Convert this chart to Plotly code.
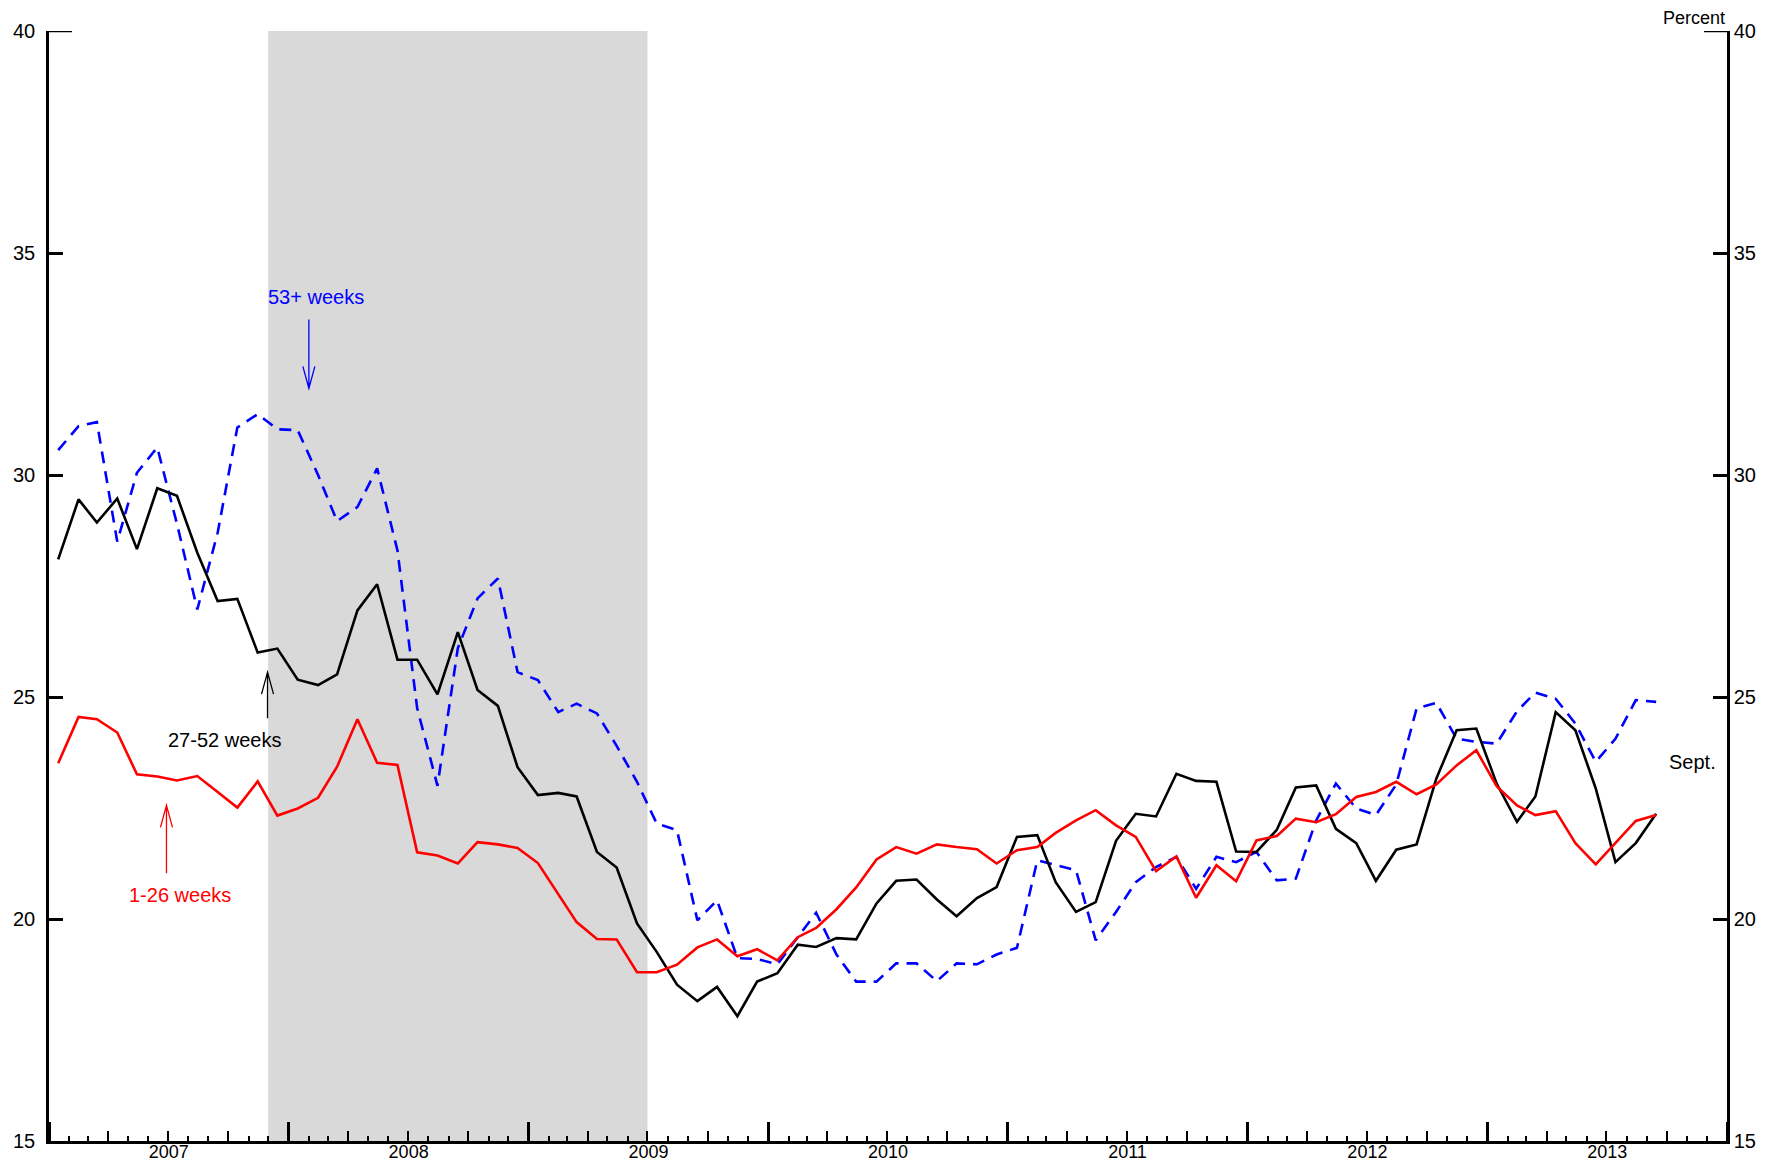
import pandas as pd
import plotly.graph_objects as go

# Monthly data, Jan 2007 - Sep 2013 (percent of unemployed)
start_month = "2007-01-01"
n_months = 81

weeks_1_26 = [23.51, 24.55, 24.50, 24.20, 23.26, 23.21, 23.12, 23.22, 22.86, 22.51, 23.10, 22.33,
              22.49, 22.73, 23.43, 24.50, 23.52, 23.47, 21.50, 21.43, 21.25, 21.73, 21.68, 21.60,
              21.26, 20.57, 19.93, 19.55, 19.54, 18.80, 18.80, 18.97, 19.36, 19.54, 19.16, 19.32,
              19.07, 19.59, 19.80, 20.22, 20.71, 21.34, 21.62, 21.47, 21.68, 21.62, 21.57, 21.25,
              21.55, 21.62, 21.94, 22.22, 22.45, 22.11, 21.85, 21.08, 21.41, 20.48, 21.21, 20.85,
              21.77, 21.87, 22.26, 22.18, 22.36, 22.75, 22.86, 23.09, 22.81, 23.03, 23.46, 23.80,
              22.99, 22.56, 22.34, 22.43, 21.71, 21.23, 21.71, 22.21, 22.34]

weeks_27_52 = [28.10, 29.45, 28.93, 29.47, 28.33, 29.70, 29.53, 28.25, 27.16, 27.21, 26.00, 26.09,
               25.39, 25.27, 25.51, 26.95, 27.54, 25.84, 25.84, 25.06, 26.46, 25.16, 24.80, 23.42,
               22.79, 22.84, 22.76, 21.51, 21.16, 19.90, 19.26, 18.52, 18.15, 18.47, 17.81, 18.59,
               18.78, 19.42, 19.37, 19.57, 19.54, 20.35, 20.86, 20.89, 20.44, 20.06, 20.47, 20.72,
               21.85, 21.89, 20.83, 20.16, 20.38, 21.76, 22.37, 22.31, 23.27, 23.11, 23.09, 21.52,
               21.51, 22.01, 22.96, 23.01, 22.03, 21.71, 20.86, 21.56, 21.68, 23.16, 24.25, 24.29,
               23.05, 22.19, 22.76, 24.66, 24.25, 22.94, 21.28, 21.71, 22.37]

weeks_53_plus = [30.56, 31.10, 31.19, 28.50, 30.05, 30.62, 28.90, 26.97, 28.70, 31.07, 31.37, 31.03,
                 31.01, 30.00, 28.96, 29.28, 30.15, 28.30, 24.75, 23.00, 26.10, 27.22, 27.67, 25.56,
                 25.38, 24.66, 24.85, 24.63, 23.90, 23.09, 22.15, 22.00, 19.97, 20.42, 19.12, 19.10,
                 18.98, 19.58, 20.14, 19.20, 18.59, 18.59, 19.00, 19.00, 18.60, 19.00, 18.98, 19.20,
                 19.35, 21.32, 21.21, 21.10, 19.52, 20.16, 20.83, 21.17, 21.40, 20.68, 21.40, 21.28,
                 21.51, 20.87, 20.91, 22.22, 23.05, 22.49, 22.34, 23.03, 24.74, 24.87, 24.06, 23.99,
                 23.95, 24.68, 25.10, 24.96, 24.40, 23.54, 24.06, 24.93, 24.89]

y_ticks = [15, 20, 25, 30, 35, 40]
x_range = ["2007-01-01", "2014-01-01"]
recession = ["2007-12-01", "2009-07-01"]

months = pd.date_range(start_month, periods=n_months, freq="MS") + pd.Timedelta(days=14)

FONT = "Liberation Sans, Arial, sans-serif"
BLUE, RED, BLACK = "#0000ff", "#ff0000", "#000000"

fig = go.Figure()
fig.add_trace(go.Scatter(x=months, y=weeks_53_plus, mode="lines", name="53+ weeks",
                         line=dict(color=BLUE, width=2.6, dash="12px,8px")))
fig.add_trace(go.Scatter(x=months, y=weeks_27_52, mode="lines", name="27-52 weeks",
                         line=dict(color=BLACK, width=2.6)))
fig.add_trace(go.Scatter(x=months, y=weeks_1_26, mode="lines", name="1-26 weeks",
                         line=dict(color=RED, width=2.6)))
# empty trace that carries the secondary (quarter-tick / right) axes
fig.add_trace(go.Scatter(x=[], y=[], xaxis="x2", yaxis="y2", showlegend=False, hoverinfo="skip"))

# recession shading
fig.add_shape(type="rect", xref="x", yref="paper", x0=recession[0], x1=recession[1], y0=0, y1=1,
              fillcolor="#d9d9d9", line=dict(width=0), layer="below")

# longer tick at the top value on both sides
fig.add_shape(type="line", xref="paper", xsizemode="pixel", xanchor=0, x0=0, x1=23,
              yref="y", y0=y_ticks[-1], y1=y_ticks[-1], line=dict(color=BLACK, width=2.5))
fig.add_shape(type="line", xref="paper", xsizemode="pixel", xanchor=1, x0=-23, x1=0,
              yref="y", y0=y_ticks[-1], y1=y_ticks[-1], line=dict(color=BLACK, width=2.5))


def arrow(xdate, y_tip, length_px, color, pointing):
    # vertical arrow with an open V head; pixels relative to the tip
    s = 1 if pointing == "up" else -1
    path = (f"M0,0 L0,{-s*length_px} M-6,{-s*22} L0,0 L6,{-s*22}")
    fig.add_shape(type="path", xref="x", yref="y", xsizemode="pixel", ysizemode="pixel",
                  xanchor=xdate, yanchor=y_tip, path=path, line=dict(color=color, width=1.3))


arrow("2008-02-01", 31.95, 69, BLUE, "down")
arrow("2007-11-30", 25.56, 46, BLACK, "up")
arrow("2007-06-29", 22.56, 68, RED, "up")

ann_font = dict(family=FONT, size=20)
fig.add_annotation(x="2008-02-12", y=34.0, text="53+ weeks", showarrow=False,
                   font=dict(ann_font, color=BLUE))
fig.add_annotation(x="2007-09-26", y=24.04, text="27-52 weeks", showarrow=False,
                   font=dict(ann_font, color=BLACK))
fig.add_annotation(x="2007-07-19", y=20.53, text="1-26 weeks", showarrow=False,
                   font=dict(ann_font, color=RED))
fig.add_annotation(x="2013-10-02", y=23.53, text="Sept.", showarrow=False, xanchor="left",
                   font=dict(ann_font, color=BLACK))
fig.add_annotation(xref="paper", yref="paper", x=1, y=1, xanchor="right", yanchor="bottom",
                   yshift=1, text="Percent", showarrow=False,
                   font=dict(family=FONT, size=18, color=BLACK))

# the page places the figure 8px from the top-left corner (default body margin)
fig.update_layout(
    width=1771, height=1156,
    margin=dict(l=41, r=52, t=23, b=23, autoexpand=False),
    paper_bgcolor="white", plot_bgcolor="white",
    showlegend=False,
    font=dict(family=FONT, color=BLACK),
    xaxis=dict(type="date", range=x_range, tick0="2007-01-01", dtick="M12", automargin=False,
               ticklabelmode="period", tickformat="%Y", ticks="inside", ticklen=19,
               ticklabelstandoff=-7,
               tickwidth=2.5, tickcolor=BLACK, showline=True, linewidth=2.5, linecolor=BLACK,
               showgrid=False, zeroline=False, tickfont=dict(size=18, family=FONT),
               minor=dict(dtick="M1", tick0="2007-01-01", ticks="inside", ticklen=5,
                          tickwidth=1.5, tickcolor=BLACK, showgrid=False)),
    xaxis2=dict(type="date", range=x_range, overlaying="x", anchor="y2", side="bottom",
                tick0="2007-01-01", dtick="M3", ticks="inside", ticklen=10, tickwidth=2,
                tickcolor=BLACK, showticklabels=False, showgrid=False, zeroline=False,
                showline=False, automargin=False),
    yaxis=dict(range=[y_ticks[0], y_ticks[-1]], tickvals=y_ticks, ticks="inside", ticklen=14,
               tickwidth=2.5, tickcolor=BLACK, showline=True, linewidth=2.5, linecolor=BLACK,
               showgrid=False, zeroline=False, tickfont=dict(size=20, family=FONT),
               ticklabelstandoff=7, automargin=False),
    yaxis2=dict(range=[y_ticks[0], y_ticks[-1]], tickvals=y_ticks, overlaying="y", side="right",
                anchor="x2", ticks="inside", ticklen=14, tickwidth=2.5, tickcolor=BLACK,
                showline=True, linewidth=2.5, linecolor=BLACK, showgrid=False, zeroline=False,
                tickfont=dict(size=20, family=FONT), automargin=False),
)

fig.write_html("out.html")
